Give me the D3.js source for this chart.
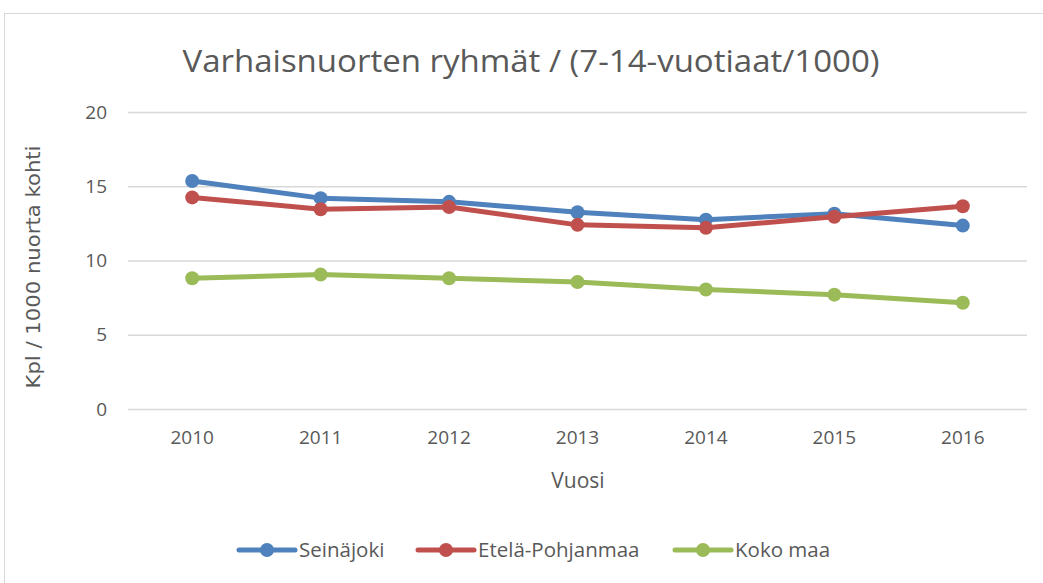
<!DOCTYPE html>
<html>
<head>
<meta charset="utf-8">
<script src="https://cdn.jsdelivr.net/npm/d3@7"></script>
<style>
  body { margin: 0; background: #fff; }
  svg { display: block; }
  text { font-family: "Open Sans", "Liberation Sans", sans-serif; fill: #595959; }
</style>
</head>
<body>
<svg id="chart" width="1043" height="583"></svg>
<script>
// data
var years = ["2010", "2011", "2012", "2013", "2014", "2015", "2016"];
var seinajoki = [15.35, 14.2, 13.95, 13.25, 12.75, 13.15, 12.35];
var etelaPohjanmaa = [14.25, 13.45, 13.6, 12.4, 12.2, 12.95, 13.65];
var kokoMaa = [8.8, 9.05, 8.8, 8.55, 8.05, 7.7, 7.15];
var seriesNames = ["Seinäjoki", "Etelä-Pohjanmaa", "Koko maa"];
var seriesColors = ["#4f81bd", "#c0504d", "#9bbb59"];
var yTicks = [0, 5, 10, 15, 20];

var series = [seinajoki, etelaPohjanmaa, kokoMaa].map(function(vals, i) {
    return { name: seriesNames[i], color: seriesColors[i], values: vals };
});

var svg = d3.select("#chart");

var margins = { top: 112, bottom: 174, left: 128, right: 16 };
var width = 1043, height = 583;

// outer chart frame
svg.append("rect")
    .attr("x", 4.5).attr("y", 13.5)
    .attr("width", 1050).attr("height", 600)
    .attr("fill", "none")
    .attr("stroke", "#d9d9d9");

var xScale = d3.scaleBand()
    .domain(years)
    .range([margins.left, width - margins.right]);

var yScale = d3.scaleLinear()
    .domain([0, 20])
    .range([height - margins.bottom, margins.top]);

// gridlines + y tick labels
var yAxis = svg.append("g")
    .attr("transform", "translate(" + margins.left + ",0)")
    .call(d3.axisLeft(yScale).tickValues(yTicks)
        .tickSize(-(width - margins.left - margins.right))
        .tickPadding(21));
yAxis.select(".domain").remove();
yAxis.selectAll("line").attr("stroke", "#d9d9d9").attr("stroke-width", 1.5);
yAxis.selectAll("text")
    .style("font-size", "19px")
    .style("font-family", "'Open Sans', sans-serif")
    .attr("fill", "#595959");

// x axis labels
var xAxis = svg.append("g")
    .attr("transform", "translate(0," + (height - margins.bottom) + ")")
    .call(d3.axisBottom(xScale).tickSize(0).tickPadding(22));
xAxis.select(".domain").remove();
xAxis.selectAll("text")
    .style("font-size", "19px")
    .style("font-family", "'Open Sans', sans-serif")
    .attr("fill", "#595959");

// title
svg.append("text")
    .attr("x", 531).attr("y", 72)
    .attr("text-anchor", "middle")
    .style("font-size", "31px")
    .attr("textLength", 697)
    .attr("lengthAdjust", "spacingAndGlyphs")
    .text("Varhaisnuorten ryhmät / (7-14-vuotiaat/1000)");

// axis titles
svg.append("text")
    .attr("x", 578).attr("y", 488)
    .attr("text-anchor", "middle")
    .style("font-size", "21px")
    .text("Vuosi");

svg.append("text")
    .attr("transform", "translate(40," + 267 + ") rotate(-90)")
    .attr("text-anchor", "middle")
    .style("font-size", "20px")
    .style("font-family", "'DejaVu Sans', sans-serif")
    .attr("textLength", 243)
    .attr("lengthAdjust", "spacingAndGlyphs")
    .text("Kpl / 1000 nuorta kohti");

// lines + markers
var line = d3.line()
    .x(function(d, i) { return xScale(years[i]) + xScale.bandwidth() / 2; })
    .y(function(d) { return yScale(d); });

var groups = svg.selectAll(".series")
    .data(series)
    .enter().append("g")
    .attr("class", "series");

groups.append("path")
    .attr("d", function(d) { return line(d.values); })
    .attr("fill", "none")
    .attr("stroke", function(d) { return d.color; })
    .attr("stroke-width", 5)
    .attr("stroke-linejoin", "round")
    .attr("stroke-linecap", "round");

groups.selectAll("circle")
    .data(function(d) { return d.values.map(function(v, i) { return { v: v, i: i, color: d.color }; }); })
    .enter().append("circle")
    .attr("cx", function(d) { return xScale(years[d.i]) + xScale.bandwidth() / 2; })
    .attr("cy", function(d) { return yScale(d.v); })
    .attr("r", 7)
    .attr("fill", function(d) { return d.color; });

// legend
var legendX = [239, 418, 675];
var legend = svg.selectAll(".legend")
    .data(series)
    .enter().append("g")
    .attr("class", "legend")
    .attr("transform", function(d, i) { return "translate(" + legendX[i] + ",550)"; });

legend.append("line")
    .attr("x1", 0).attr("x2", 56)
    .attr("stroke", function(d) { return d.color; })
    .attr("stroke-width", 5)
    .attr("stroke-linecap", "round");
legend.append("circle")
    .attr("cx", 28).attr("r", 7)
    .attr("fill", function(d) { return d.color; });
legend.append("text")
    .attr("x", 60).attr("y", 7)
    .style("font-size", "20.5px")
    .text(function(d) { return d.name; });
</script>
</body>
</html>
